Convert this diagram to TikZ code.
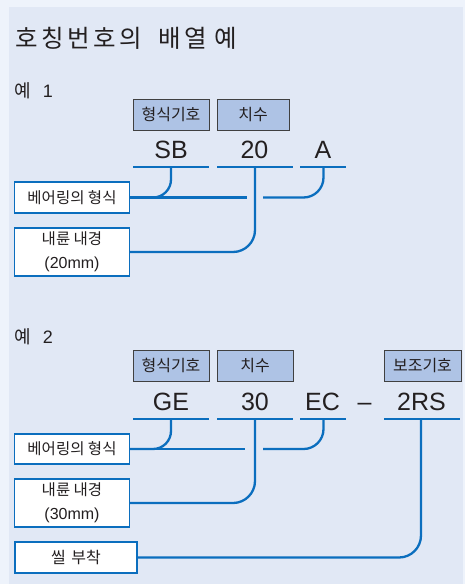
\documentclass[tikz,border=0pt]{standalone}
\usepackage{fontspec}
\setmainfont{Liberation Sans}
\newfontfamily\kr{Noto Sans CJK KR}
\definecolor{outerbg}{HTML}{EEF3FB}
\definecolor{innerbg}{HTML}{E1E8F5}
\definecolor{tagfill}{HTML}{AEC3E5}
\definecolor{tagline}{HTML}{404040}
\definecolor{lineblue}{HTML}{0B6EBE}
\definecolor{txt}{HTML}{231F20}
\newcommand{\tg}[1]{\makebox[26pt][c]{#1}}
\begin{document}
\begin{tikzpicture}[x=1pt,y=-1pt,
  tagbox/.style={draw=tagline, line width=1pt, fill=tagfill, minimum height=31pt, inner sep=0pt, font=\kr\fontsize{16}{16}\selectfont, text=txt},
  infobox/.style={draw=lineblue, line width=1.2pt, fill=white, inner sep=0pt, text=txt, align=center, font=\fontsize{16}{24}\selectfont},
  codetext/.style={font=\fontsize{25}{25}\selectfont, anchor=base, text=txt, inner sep=0pt},
  heading/.style={anchor=west, inner sep=0pt, text=txt, font=\fontsize{18}{18}\selectfont},
  under/.style={draw=lineblue, line width=2.3pt},
  conn/.style={draw=lineblue, line width=2.3pt}]
\useasboundingbox (0,0) rectangle (465,584);
\fill[outerbg] (0,0) rectangle (465,584);
\fill[innerbg] (9,7) rectangle (463,584);

\node[anchor=west, inner sep=0pt, text=txt, font=\kr\fontsize{24.5}{24.5}\selectfont] (title) at (14,38) {\tg{호}\tg{칭}\tg{번}\tg{호}\tg{의}\hspace{12.5pt}\tg{배}\tg{열}\hspace{4pt}\tg{예}};

% ---------- Example 1
\node[heading] (ex1) at (14,90.5) {{\kr 예} \kern7pt 1};
\node[tagbox, minimum width=76pt] (t1a) at (171,114.5) {형식기호};
\node[tagbox, minimum width=72pt] (t1b) at (253,114.5) {치수};
\node[codetext] (c1a) at (171,158) {SB};
\node[codetext] (c1b) at (254.5,158) {20};
\node[codetext] (c1c) at (323,158) {A};
\draw[under] (133,167) -- (209,167);
\draw[under] (217,167) -- (293,167);
\draw[under] (300,167) -- (346,167);
\coordinate (sb) at (171,167);
\coordinate (n20) at (255,167);
\coordinate (na) at (323.5,167);
\node[infobox, minimum width=115pt, minimum height=31pt] (b1) at (72,197.5) {{\kr\fontsize{15.5}{15.5}\selectfont 베어링의 형식}};
\node[infobox, minimum width=115pt, minimum height=48pt] (b2) at (72,252) {{\kr\fontsize{15.5}{15.5}\selectfont 내륜 내경}\\(20mm)};
\coordinate (g1l) at (247,197.5);
\coordinate (g1r) at (263,197.5);
\draw[conn, rounded corners=18pt] (sb) |- (b1.east);
\draw[conn] (b1.east) -- (g1l);
\draw[conn, rounded corners=20pt] (na) |- (g1r);
\draw[conn, rounded corners=22pt] (n20) |- (b2.east);

% ---------- Example 2
\node[heading] (ex2) at (14,336.5) {{\kr 예} \kern7pt 2};
\node[tagbox, minimum width=76pt] (t2a) at (171,365.5) {형식기호};
\node[tagbox, minimum width=76pt] (t2b) at (255,365.5) {치수};
\node[tagbox, minimum width=77pt] (t2c) at (422.5,365.5) {보조기호};
\node[codetext] (c2a) at (171,410) {GE};
\node[codetext] (c2b) at (255,410) {30};
\node[codetext] (c2c) at (322.5,410) {EC};
\node[codetext] (c2d) at (364.5,410) {–};
\node[codetext] (c2e) at (421.5,410) {2RS};
\draw[under] (133,419) -- (209,419);
\draw[under] (217,419) -- (293,419);
\draw[under] (300,419) -- (346,419);
\draw[under] (384,419) -- (460,419);
\coordinate (ge) at (171,419);
\coordinate (n30) at (255,419);
\coordinate (ec) at (323.5,419);
\coordinate (rs) at (421,419);
\node[infobox, minimum width=115pt, minimum height=30pt] (b3) at (72,449) {{\kr\fontsize{15.5}{15.5}\selectfont 베어링의 형식}};
\node[infobox, minimum width=115pt, minimum height=48pt] (b4) at (72,503) {{\kr\fontsize{15.5}{15.5}\selectfont 내륜 내경}\\(30mm)};
\node[infobox, minimum width=122pt, minimum height=31pt] (b5) at (76,557.5) {{\kr\fontsize{16}{16}\selectfont 씰 \kern2pt 부착}};
\coordinate (g2l) at (245,449);
\coordinate (g2r) at (263,449);
\draw[conn, rounded corners=18pt] (ge) |- (b3.east);
\draw[conn] (b3.east) -- (g2l);
\draw[conn, rounded corners=20pt] (ec) |- (g2r);
\draw[conn, rounded corners=22pt] (n30) |- (b4.east);
\draw[conn, rounded corners=22pt] (rs) |- (b5.east);
\end{tikzpicture}
\end{document}
